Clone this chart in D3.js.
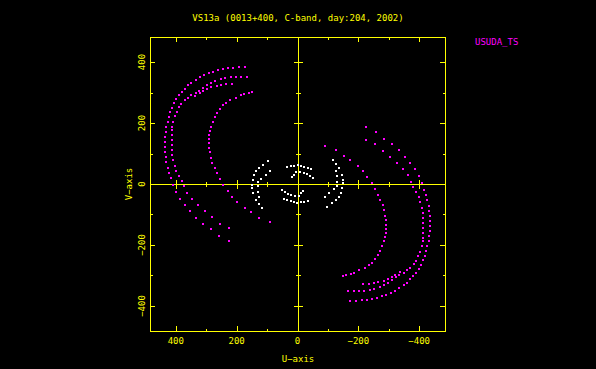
<!DOCTYPE html>
<html>
<head>
<meta charset="utf-8">
<script src="https://cdn.jsdelivr.net/npm/d3@7"></script>
<style>
  body { margin: 0; background: #000; }
  svg { display: block; }
  text { font-family: "DejaVu Sans Mono", monospace; font-size: 9px; fill: #ffff00; }
</style>
</head>
<body>
<svg id="chart" width="596" height="369"></svg>
<script>
// uv points (kilo-lambda), one half only.
// every sample is drawn together with its conjugate (-u,-v)
var usudaTrackA = [[174,383],[193,383],[211,380],[228,379],[245,376],[261,374],[278,368],[292,363],[307,357],
  [321,350],[335,341],[349,332],[360,324],[370,313],[381,303],[390,291],[398,278],[406,265],[412,250],[419,235],
  [423,219],[427,203],[431,188],[434,171],[436,155],[436,139],[436,122],[436,106],[434,90],[431,71],[427,54],
  [423,35],[416,19],[409,-3],[398,-25],[387,-49],[370,-69],[354,-89],[335,-110],[312,-131],[286,-149],[258,-169],[226,-187]];
var usudaTrackB = [[165,352],[185,352],[202,352],[220,350],[237,347],[253,343],[270,338],[283,332],[297,324],
  [310,315],[324,306],[335,297],[349,293],[360,283],[370,275],[384,262],[390,251],[397,237],[403,223],[409,204],
  [412,188],[412,177],[414,161],[414,144],[414,128],[414,111],[412,95],[409,79],[403,60],[398,44],[390,27],
  [381,10],[373,-7],[362,-28],[347,-49],[327,-69],[305,-89],[281,-109],[256,-131],[225,-145]];
var usudaTrackC = [[217,328],[234,327],[250,326],[266,322],[283,318],[297,312],[310,305],[322,297],[338,288]];
var usudaTrackD = [[148,301],[161,299],[175,295],[187,293],[203,282],[221,275],[236,264],[245,259],[256,245],
  [265,234],[272,219],[278,204],[285,188],[289,174],[291,161],[292,148],[292,135],[291,117],[289,104],[285,86],
  [280,68],[272,51],[266,35],[256,16],[245,-3],[230,-23],[215,-41],[198,-58],[174,-78],[152,-93],[125,-110],[92,-126]];
var otherArcOuter = [[97,75],[114,62],[125,54],[135,44],[143,28],[147,13],[150,-2],[150,-12],[147,-30],
  [138,-52],[127,-67],[117,-80]];
var otherArcInner = [[92,44],[103,31],[119,17],[130,5],[130,-8],[130,-25],[127,-44]];
var otherCenterA = [[33,57],[21,59],[10,60],[-1,61],[-12,60],[-23,57],[-34,53],[-45,48]];
var otherCenterB = [[17,22],[10,29],[4,38],[-7,38],[-20,37],[-30,32],[-42,26],[-50,20]];
var xTicks = [400, 200, 0, -200, -400];
var yTicks = [400, 200, 0, -200, -400];
var title = "VS13a (0013+400, C-band, day:204, 2002)";
var legendName = "USUDA_TS";

var svg = d3.select("#chart");
svg.append("rect").attr("width", 596).attr("height", 369).attr("fill", "#000");

var x = d3.scaleLinear().domain([485, -485]).range([150, 445]);
var y = d3.scaleLinear().domain([-482, 482]).range([331, 37]);

var withConj = function(list) {
  return list.flatMap(function(p) { return [p, [-p[0], -p[1]]]; });
};

var yellow = "#ffff00";
var g = svg.append("g").attr("shape-rendering", "crispEdges");

// frame
g.append("rect")
  .attr("x", 150.5).attr("y", 37.5).attr("width", 295).attr("height", 294)
  .attr("fill", "none").attr("stroke", yellow);

// frame ticks, inward
var minor = d3.range(-400, 401, 100);
minor.forEach(function(t) {
  var len = (t % 200 === 0) ? 5 : 2.5;
  var xp = Math.round(x(t)) + 0.5, yp = Math.round(y(t)) + 0.5;
  g.append("line").attr("x1", xp).attr("x2", xp).attr("y1", 331).attr("y2", 331 - len).attr("stroke", yellow);
  g.append("line").attr("x1", xp).attr("x2", xp).attr("y1", 37).attr("y2", 37 + len).attr("stroke", yellow);
  g.append("line").attr("y1", yp).attr("y2", yp).attr("x1", 150).attr("x2", 150 + len).attr("stroke", yellow);
  g.append("line").attr("y1", yp).attr("y2", yp).attr("x1", 445).attr("x2", 445 - len).attr("stroke", yellow);
});

// zero axes
var x0 = Math.round(x(0)) + 0.5, y0 = Math.round(y(0)) + 0.5;
g.append("line").attr("x1", 150).attr("x2", 445).attr("y1", y0).attr("y2", y0).attr("stroke", yellow);
g.append("line").attr("x1", x0).attr("x2", x0).attr("y1", 37).attr("y2", 331).attr("stroke", yellow);
minor.forEach(function(t) {
  if (t === 0) return;
  var len = (t % 200 === 0) ? 4.5 : 2.5;
  var xp = Math.round(x(t)) + 0.5, yp = Math.round(y(t)) + 0.5;
  g.append("line").attr("x1", xp).attr("x2", xp).attr("y1", y0 - len).attr("y2", y0 + len).attr("stroke", yellow);
  g.append("line").attr("y1", yp).attr("y2", yp).attr("x1", x0 - len).attr("x2", x0 + len).attr("stroke", yellow);
});

// tick labels
var fmt = function(d) { return d < 0 ? "\u2212" + (-d) : "" + d; };
svg.selectAll(".xl").data(xTicks).enter().append("text")
  .attr("x", function(d) { return x(d); }).attr("y", 344)
  .attr("text-anchor", "middle").text(fmt);
svg.selectAll(".yl").data(yTicks).enter().append("text")
  .attr("transform", function(d) { return "translate(145," + y(d) + ") rotate(-90)"; })
  .attr("text-anchor", "middle").text(fmt);

svg.append("text").attr("x", 298).attr("y", 362).attr("text-anchor", "middle").text("U\u2212axis");
svg.append("text").attr("transform", "translate(132,184) rotate(-90)").attr("text-anchor", "middle").text("V\u2212axis");
svg.append("text").attr("x", 298).attr("y", 20.5).attr("text-anchor", "middle").text(title);
svg.append("text").attr("x", 475).attr("y", 45).style("fill", "#ff00ff").text(legendName);

// uv points
var drawPts = function(list, color, size) {
  svg.append("g").selectAll("rect").data(withConj(list)).enter().append("rect")
    .attr("x", function(d) { return Math.round(x(d[0]) - size / 2); })
    .attr("y", function(d) { return Math.round(y(d[1]) - size / 2); })
    .attr("width", size).attr("height", size)
    .attr("fill", color);
};
drawPts(usudaTrackA, "#ff00ff", 2);
drawPts(usudaTrackB, "#ff00ff", 2);
drawPts(usudaTrackC, "#ff00ff", 2);
drawPts(usudaTrackD, "#ff00ff", 2);
drawPts(otherArcOuter, "#ffffff", 2);
drawPts(otherArcInner, "#ffffff", 2);
drawPts(otherCenterA, "#ffffff", 2);
drawPts(otherCenterB, "#ffffff", 2);
</script>
</body>
</html>
